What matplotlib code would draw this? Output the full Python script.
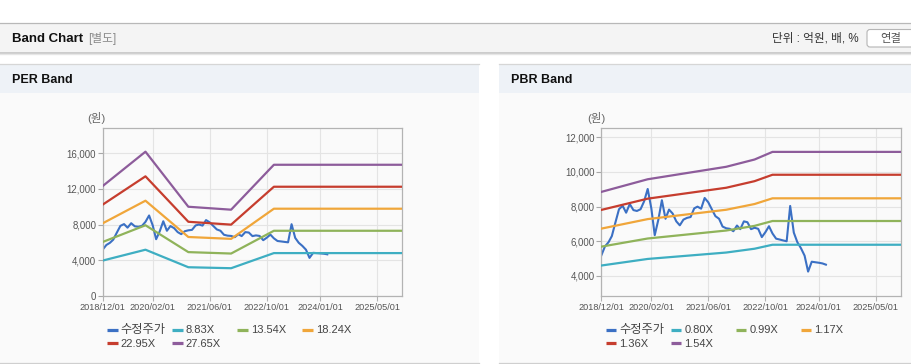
import matplotlib
matplotlib.use('Agg')
import matplotlib.pyplot as plt
from matplotlib.patches import Rectangle, FancyBboxPatch
from matplotlib.ticker import FuncFormatter
import pandas as pd

plt.rcParams['font.family'] = ['Liberation Sans', 'Noto Sans CJK KR', 'DejaVu Sans']

# ---------------- data ----------------
price_label = '수정주가'
price_start = '2018-12-01'
price_values = [5180, 5700, 5950, 6300, 7100, 7850, 8050, 7650, 8150, 7800,
                7750, 7850, 8300, 9020, 7900, 6350, 7250, 8370, 7300, 7830,
                7600, 7150, 6920, 7250, 7350, 7400, 7900, 8000, 7880, 8500,
                8250, 7850, 7450, 7300, 6850, 6750, 6720, 6580, 6910, 6700,
                7150, 7100, 6700, 6780, 6720, 6240, 6520, 6870, 6450, 6150,
                6100, 6050, 6000, 8040, 6500, 5950, 5600, 5170, 4250, 4820,
                4790, 4760, 4720, 4650]

per_dates = ['2018-12-01', '2019-12-01', '2020-12-01', '2021-12-01', '2022-12-01', '2025-12-01']
per_labels = ['8.83X', '13.54X', '18.24X', '22.95X', '27.65X']
per_8_83 = [3950, 5170, 3200, 3090, 4790, 4790]
per_13_54 = [6040, 7920, 4900, 4740, 7300, 7300]
per_18_24 = [8140, 10680, 6600, 6390, 9780, 9780]
per_22_95 = [10240, 13420, 8310, 7990, 12250, 12250]
per_27_65 = [12330, 16190, 10000, 9670, 14720, 14720]

pbr_dates = ['2018-12-01', '2020-01-01', '2021-11-01', '2022-07-01', '2022-12-01', '2025-12-01']
pbr_labels = ['0.80X', '0.99X', '1.17X', '1.36X', '1.54X']
pbr_0_80 = [4600, 4980, 5350, 5570, 5800, 5800]
pbr_0_99 = [5690, 6160, 6620, 6890, 7170, 7170]
pbr_1_17 = [6730, 7280, 7820, 8150, 8480, 8480]
pbr_1_36 = [7810, 8460, 9090, 9470, 9840, 9840]
pbr_1_54 = [8850, 9580, 10300, 10720, 11160, 11160]

x_tick_dates = ['2018-12-01', '2020-02-01', '2021-06-01', '2022-10-01', '2024-01-01', '2025-05-01']
per_yticks = [0, 4000, 8000, 12000, 16000]
pbr_yticks = [4000, 6000, 8000, 10000, 12000]

price_color = '#3b70c4'
band_colors = ['#3eaec2', '#8fb35a', '#f0a63a', '#c63d2e', '#8d5c9b']

# ---------------- figure ----------------
W, H = 912, 364
fig = plt.figure(figsize=(W / 100, H / 100), dpi=100)
fig.patch.set_facecolor('white')

bg = fig.add_axes([0, 0, 1, 1], zorder=0)
bg.set_xlim(0, W)
bg.set_ylim(H, 0)
bg.axis('off')

# top header bar
bg.add_patch(Rectangle((0, 23), W, 30, facecolor='#f4f4f4', edgecolor='none'))
bg.plot([0, W], [22.5, 22.5], color='#b8b8b8', lw=0.9)
bg.plot([0, W], [53, 53], color='#c4c4c4', lw=1.2)
bg.plot([0, W], [54.3, 54.3], color='#e6e6e6', lw=1.0)
bg.text(12, 38.5, 'Band Chart', fontsize=9.5, fontweight='bold', color='#111111', va='center', ha='left')
bg.text(88, 38.5, '[별도]', fontsize=8.5, color='#8a8a8a', va='center', ha='left')
bg.text(859, 38.5, '단위 : 억원, 배, %', fontsize=8.4, color='#333333', va='center', ha='right')
bg.add_patch(FancyBboxPatch((867, 29.5), 60, 17.5, boxstyle='round,pad=0,rounding_size=3',
                            facecolor='white', edgecolor='#b5b5b5', lw=0.8))
bg.text(891, 38.5, '연결', fontsize=8.2, color='#555555', va='center', ha='center')

# panels
panels = [(0, 479, 'PER Band'), (499, W, 'PBR Band')]
for x0, x1, title in panels:
    bg.add_patch(Rectangle((x0, 64), x1 - x0, 29, facecolor='#eef2f7', edgecolor='none'))
    bg.add_patch(Rectangle((x0, 93), x1 - x0, 270, facecolor='#fafafa', edgecolor='none'))
    bg.plot([x0, x1], [63.8, 63.8], color='#d6d6d6', lw=0.9)
    bg.plot([x0, x1], [363, 363], color='#cfcfcf', lw=0.9)
    bg.text(x0 + 12, 80, title, fontsize=9, fontweight='bold', color='#111111', va='center', ha='left')

price_dates = pd.date_range(price_start, periods=len(price_values), freq='MS')
tick_dates = pd.to_datetime(x_tick_dates)
tick_labels = [d.strftime('%Y/%m/%d') for d in tick_dates]


def make_axes(left_px, ylim, yticks, band_dates, bands, unit_x):
    ax = fig.add_axes([left_px / W, (H - 295.7) / H, 299.6 / W, 167.4 / H], zorder=2)
    ax.set_facecolor('none')
    ax.plot(price_dates, price_values, color=price_color, lw=1.5, zorder=2, solid_joinstyle='round')
    bd = pd.to_datetime(band_dates)
    for vals, col in zip(bands, band_colors):
        ax.plot(bd, vals, color=col, lw=1.6, zorder=3)
    ax.set_xlim(pd.Timestamp('2018-12-01'), pd.Timestamp('2025-12-01'))
    ax.set_ylim(*ylim)
    ax.set_xticks(tick_dates)
    ax.set_xticklabels(tick_labels)
    ax.set_yticks(yticks)
    ax.yaxis.set_major_formatter(FuncFormatter(lambda v, p: f'{int(v):,}'))
    ax.grid(True, color='#e4e4e4', lw=0.8, zorder=0)
    ax.set_axisbelow(True)
    for s in ax.spines.values():
        s.set_color('#b3b3b3')
        s.set_linewidth(0.9)
    ax.tick_params(axis='y', length=3.5, width=0.8, color='#a8a8a8', labelsize=6.9,
                   labelcolor='#555555', pad=1.2)
    ax.tick_params(axis='x', length=3.5, width=0.8, color='#b3b3b3', labelsize=6.6,
                   labelcolor='#555555', pad=1.5)
    bg.text(unit_x, 118.5, '(원)', fontsize=8.2, color='#666666', va='center', ha='left')
    return ax


per_ax = make_axes(102.7, (0, 18820), per_yticks, per_dates,
                   [per_8_83, per_13_54, per_18_24, per_22_95, per_27_65], 87)
pbr_ax = make_axes(601.3, (2858, 12522), pbr_yticks, pbr_dates,
                   [pbr_0_80, pbr_0_99, pbr_1_17, pbr_1_36, pbr_1_54], 587)


def draw_legend(x_start, labels):
    names = [price_label] + labels
    cols = [price_color] + band_colors
    for i, (nm, col) in enumerate(zip(names, cols)):
        r, c = divmod(i, 4)
        x = x_start + c * 65
        y = 330 + r * 13.3
        bg.plot([x, x + 10.5], [y, y], color=col, lw=2.3, solid_capstyle='butt')
        bg.text(x + 13.5, y + 0.3, nm, fontsize=8.0 if i else 8.8, color='#444444',
                va='center', ha='left')


draw_legend(107.3, per_labels)
draw_legend(606, pbr_labels)

fig.savefig('out.png', dpi=100)
